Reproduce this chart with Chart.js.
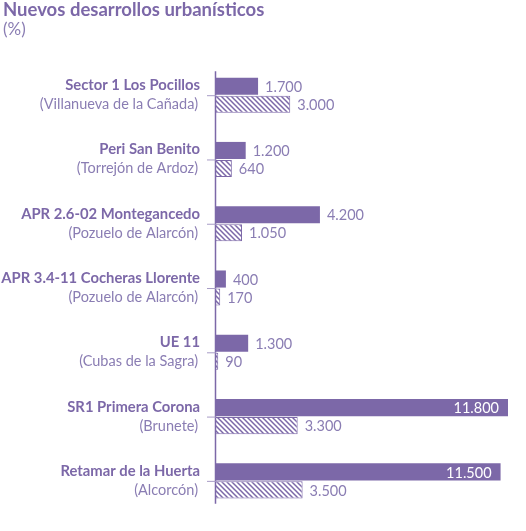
<!DOCTYPE html>
<html lang="es">
<head>
<meta charset="UTF-8">
<title>Nuevos desarrollos urbanísticos</title>
<script src="https://cdn.jsdelivr.net/npm/chart.js"></script>
<style>
  html, body { margin: 0; padding: 0; background: #fff; }
  #grafico { display: block; }
</style>
</head>
<body>
<canvas id="grafico" width="526" height="531"></canvas>
<script>
// datos
var nombres = ['Sector 1 Los Pocillos', 'Peri San Benito', 'APR 2.6-02 Montegancedo',
  'APR 3.4-11 Cocheras Llorente', 'UE 11', 'SR1 Primera Corona', 'Retamar de la Huerta'];
var municipios = ['(Villanueva de la Cañada)', '(Torrejón de Ardoz)', '(Pozuelo de Alarcón)',
  '(Pozuelo de Alarcón)', '(Cubas de la Sagra)', '(Brunete)', '(Alcorcón)'];
var serieLisa = [1700, 1200, 4200, 400, 1300, 11800, 11500];
var serieRayada = [3000, 640, 1050, 170, 90, 3300, 3500];

var morado = '#7c68a8';
var moradoClaro = '#8a7db3';
var fuente = 'Lato, "Open Sans", sans-serif';

// trama de rayas diagonales
function crearRayado() {
  var s = 5;
  var c = document.createElement('canvas');
  c.width = s; c.height = s;
  var x = c.getContext('2d');
  x.fillStyle = '#fff';
  x.fillRect(0, 0, s, s);
  x.strokeStyle = morado;
  x.lineWidth = 1.5;
  x.beginPath();
  x.moveTo(-1, -1); x.lineTo(s + 1, s + 1);
  x.moveTo(-1, s - 1); x.lineTo(1, s + 1);
  x.moveTo(s - 1, -1); x.lineTo(s + 1, 1);
  x.stroke();
  return x.createPattern(c, 'repeat');
}

function formato(v) {
  return String(v).replace(/\B(?=(\d{3})+(?!\d))/g, '.');
}

// etiquetas a la izquierda, eje y valores
var extras = {
  id: 'extras',
  afterDatasetsDraw: function (chart) {
    var ctx = chart.ctx;
    var y = chart.scales.y;
    var izq = chart.chartArea.left;
    ctx.save();

    // eje vertical
    var y0 = y.getPixelForValue(0) - 24;
    var y1 = y.getPixelForValue(nombres.length - 1) + 23;
    ctx.strokeStyle = morado;
    ctx.lineWidth = 1.5;
    ctx.beginPath();
    ctx.moveTo(izq - 0.5, y0);
    ctx.lineTo(izq - 0.5, y1);
    ctx.stroke();

    nombres.forEach(function (n, i) {
      var cy = y.getPixelForValue(i);
      ctx.strokeStyle = '#a79cc6';
      ctx.lineWidth = 1;
      ctx.beginPath();
      ctx.moveTo(izq - 9, cy + 0.5);
      ctx.lineTo(izq, cy + 0.5);
      ctx.stroke();

      ctx.textAlign = 'right';
      ctx.textBaseline = 'alphabetic';
      ctx.fillStyle = morado;
      ctx.font = 'bold 14.8px ' + fuente;
      ctx.fillText(n, izq - 16, cy - 5);
      ctx.fillStyle = moradoClaro;
      ctx.font = '14.5px ' + fuente;
      ctx.fillText(municipios[i], izq - 18, cy + 14);
    });

    // valores al final de las barras
    ctx.font = '14.5px ' + fuente;
    ctx.textBaseline = 'middle';
    chart.data.datasets.forEach(function (ds, d) {
      chart.getDatasetMeta(d).data.forEach(function (bar, i) {
        var v = ds.data[i];
        if (v > 10000) {
          ctx.textAlign = 'right';
          ctx.fillStyle = '#fff';
          ctx.fillText(formato(v), bar.x - 9, bar.y + 1);
        } else {
          ctx.textAlign = 'left';
          ctx.fillStyle = moradoClaro;
          ctx.fillText(formato(v), bar.x + 7, bar.y + 1);
        }
      });
    });
    ctx.restore();
  }
};

var grafico = new Chart(document.getElementById('grafico'), {
  type: 'bar',
  data: {
    labels: nombres,
    datasets: [{
      label: 'Serie 1',
      data: serieLisa,
      backgroundColor: morado,
      borderWidth: 0
    }, {
      label: 'Serie 2',
      data: serieRayada,
      backgroundColor: crearRayado(),
      borderColor: morado,
      borderWidth: 1
    }]
  },
  options: {
    indexAxis: 'y',
    responsive: false,
    animation: false,
    datasets: {
      bar: { categoryPercentage: 0.56, barPercentage: 0.95 }
    },
    layout: { padding: { left: 3, right: 18, top: 0, bottom: 18 } },
    scales: {
      x: { display: false, min: 0, max: 11800 },
      y: {
        ticks: { display: false },
        grid: { display: false },
        border: { display: false },
        afterFit: function (s) { s.width = 213; }
      }
    },
    plugins: {
      legend: { display: false },
      tooltip: { enabled: false },
      title: {
        display: true,
        text: 'Nuevos desarrollos urbanísticos',
        align: 'start',
        color: morado,
        font: { family: fuente, size: 18.5, weight: 'bold', lineHeight: 1.1 },
        padding: { top: 0, bottom: 0 }
      },
      subtitle: {
        display: true,
        text: '(%)',
        align: 'start',
        color: moradoClaro,
        font: { family: fuente, size: 17, lineHeight: 1.1 },
        padding: { top: 0, bottom: 24 }
      }
    }
  },
  plugins: [extras]
});
</script>
</body>
</html>
